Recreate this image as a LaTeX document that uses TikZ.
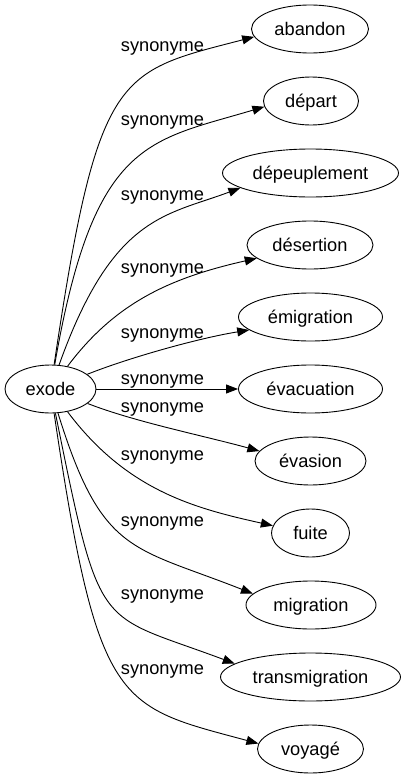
\documentclass[tikz,border=0pt]{standalone}
\usepackage{fontspec}
\setmainfont{Liberation Sans}
\usetikzlibrary{shapes.geometric,arrows.meta}
\begin{document}
\begin{tikzpicture}[x=1pt,y=-1pt,
  word/.style={draw, ellipse, line width=0.9pt, inner sep=0pt, minimum height=48pt,
    text height=16pt, text depth=4pt, font=\fontsize{18.25}{20}\selectfont},
  rel/.style={font=\fontsize{18.25}{20}\selectfont, anchor=base, inner sep=0pt},
  syn/.style={line width=0.9pt, -{Triangle[length=12pt,width=9pt]}}]
\useasboundingbox (0,0) rectangle (406,779);
% nodes
\node[word, minimum width=91pt]  (exode)  at (50.5,389) {exode};
\node[word, minimum width=117pt] (abandon) at (310,29) {abandon};
\node[word, minimum width=95pt]  (depart) at (311,101) {départ};
\node[word, minimum width=176pt] (depeup) at (310.5,173) {dépeuplement};
\node[word, minimum width=126pt] (desertion) at (310,245) {désertion};
\node[word, minimum width=144pt] (emigration) at (310.5,317) {émigration};
\node[word, minimum width=144pt] (evacuation) at (310.5,389) {évacuation};
\node[word, minimum width=111pt] (evasion) at (310.5,461) {évasion};
\node[word, minimum width=78pt]  (fuite) at (310.5,533) {fuite};
\node[word, minimum width=130pt] (migration) at (311,605) {migration};
\node[word, minimum width=180pt] (transmig) at (310.5,677) {transmigration};
\node[word, minimum width=106pt] (voyage) at (310.5,749) {voyagé};
% edges
\draw[syn] (exode) .. controls (98,69.3) and (117.5,72.3) .. (abandon.188);
\draw[syn] (exode) .. controls (93.7,139.2) and (148,141.4) .. (depart.187);
\draw[syn] (exode) .. controls (112.6,215) and (166,215.7) .. (depeup.192);
\draw[syn] (exode) .. controls (115,303) and (169.5,278) .. (desertion.194);
\draw[syn] (exode) .. controls (128,358) and (199,338) .. (emigration.192);
\draw[syn] (exode) -- (evacuation);
\draw[syn] (exode) .. controls (135,422) and (205,436) .. (evasion.169);
\draw[syn] (exode) .. controls (127,491) and (195.4,508.4) .. (fuite.169);
\draw[syn] (exode) .. controls (102,555) and (132,546) .. (migration.169);
\draw[syn] (exode) .. controls (101,637.4) and (95.6,611.5) .. (transmig.170);
\draw[syn] (exode) .. controls (98,708.7) and (117.5,705.7) .. (voyage.174);
% labels
\node[rel] (l1)  at (162.5,51)  {synonyme};
\node[rel] (l2)  at (162.5,125) {synonyme};
\node[rel] (l3)  at (162.5,200) {synonyme};
\node[rel] (l4)  at (162.5,273) {synonyme};
\node[rel] (l5)  at (162.5,338) {synonyme};
\node[rel] (l6)  at (162.5,384) {synonyme};
\node[rel] (l7)  at (162.5,412) {synonyme};
\node[rel] (l8)  at (162.5,460) {synonyme};
\node[rel] (l9)  at (162.5,526) {synonyme};
\node[rel] (l10) at (162.5,599) {synonyme};
\node[rel] (l11) at (162.5,674) {synonyme};
\end{tikzpicture}
\end{document}
